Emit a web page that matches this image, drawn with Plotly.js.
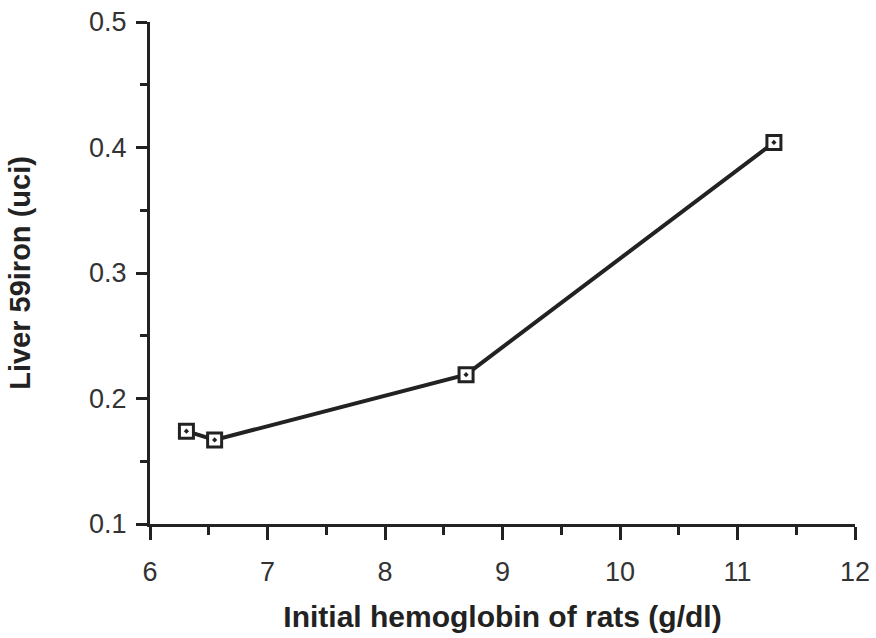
<!DOCTYPE html>
<html>
<head>
<meta charset="utf-8">
<script src="https://cdn.plot.ly/plotly-3.0.1.min.js"></script>
<style>html,body{margin:0;padding:0;background:#fff;}#chart{width:876px;height:638px;}</style>
</head>
<body>
<div id="chart"></div>
<script>
const hemoglobin = [6.31, 6.55, 8.69, 11.31];
const liverIron = [0.174, 0.167, 0.219, 0.404];
const xTickVals = [6, 7, 8, 9, 10, 11, 12];
const yTickVals = [0.1, 0.2, 0.3, 0.4, 0.5];

const ink = '#222';
const fam = 'Liberation Sans, Arial, sans-serif';
const trace = {
  x: hemoglobin,
  y: liverIron,
  mode: 'lines+markers',
  type: 'scatter',
  line: {color: ink, width: 4},
  marker: {symbol: 'square-dot', size: 14, color: '#fff', line: {color: ink, width: 3}},
  cliponaxis: false,
  hoverinfo: 'skip'
};

const layout = {
  width: 876, height: 638,
  margin: {l: 150, r: 21, t: 22, b: 114},
  paper_bgcolor: '#fff', plot_bgcolor: '#fff',
  showlegend: false,
  font: {family: fam, color: ink},
  xaxis: {
    range: [6, 12], tickvals: xTickVals, ticktext: xTickVals.map(String),
    showgrid: false, zeroline: false, showline: true, linecolor: ink, linewidth: 3,
    ticks: 'outside', ticklen: 13, tickwidth: 3, tickcolor: ink,
    minor: {dtick: 0.5, ticks: 'outside', ticklen: 8, tickwidth: 3, tickcolor: ink, showgrid: false},
    tickfont: {size: 27, color: '#333', family: fam},
    ticklabelstandoff: 9,
    title: {text: 'Initial hemoglobin of rats (g/dl)', font: {size: 30, color: ink, family: fam, weight: 'bold'}, standoff: 20}
  },
  yaxis: {
    range: [0.1, 0.5], tickvals: yTickVals, ticktext: yTickVals.map(v => v.toFixed(1)),
    showgrid: false, zeroline: false, showline: true, linecolor: ink, linewidth: 3,
    ticks: 'outside', ticklen: 11, tickwidth: 3, tickcolor: ink,
    minor: {dtick: 0.05, ticks: 'outside', ticklen: 7, tickwidth: 3, tickcolor: ink, showgrid: false},
    tickfont: {size: 27, color: '#333', family: fam},
    ticklabelstandoff: 4,
    title: {text: 'Liver 59iron (uci)', font: {size: 29, color: ink, family: fam, weight: 'bold'}, standoff: 50}
  }
};

Plotly.newPlot('chart', [trace], layout, {displayModeBar: false, staticPlot: true});
</script>
</body>
</html>
